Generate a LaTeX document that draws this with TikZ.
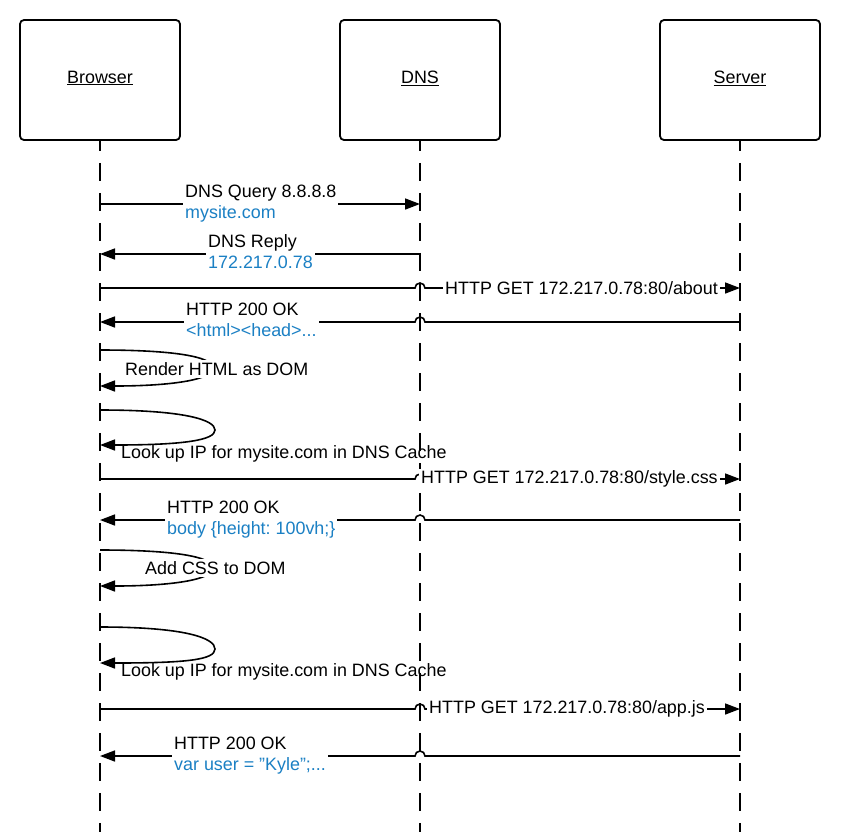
\documentclass[tikz,border=0pt]{standalone}
\usepackage{fontspec}
\setmainfont{Liberation Sans}
\usetikzlibrary{arrows.meta}
\definecolor{lblue}{RGB}{27,128,196}
\newcommand\dfont{\fontsize{17.9}{21}\selectfont\frenchspacing}
\newcommand\tstrut{\rule[-7pt]{0pt}{21pt}}
\newcommand\sstrut{\rule[-3pt]{0pt}{18pt}}
\newcommand\actortext[1]{\raisebox{2pt}[\height][\depth]{\underline{#1}}}
\begin{document}
\begin{tikzpicture}[x=1pt,y=-1pt,
 actor/.style={draw,line width=1.8pt,rounded corners=4pt,minimum width=160pt,minimum height=120pt,font=\dfont},
 life/.style={line width=1.8pt,dash pattern=on 18pt off 12pt,dash phase=8pt},
 msg/.style={line width=1.6pt,-{Triangle[length=15pt,width=11pt]}},
 lbl/.style={fill=white,anchor=west,inner xsep=2pt,inner ysep=0pt,font=\dfont,align=left},
 slbl/.style={fill=white,anchor=west,inner xsep=2pt,inner ysep=0pt,font=\dfont},
 plbl/.style={anchor=west,inner xsep=2pt,inner ysep=0pt,font=\dfont},
]
\useasboundingbox (0,0) rectangle (859,831);

% actors
\node[actor] (browser) at (100,80) {\actortext{Browser}};
\node[actor] (dns) at (420,80) {\actortext{DNS}};
\node[actor] (server) at (740,80) {\actortext{Server}};

% lifelines
\coordinate (browserEnd) at (100,832);
\coordinate (dnsEnd) at (420,832);
\coordinate (serverEnd) at (740,832);
\draw[life] (browser.south) -- (browserEnd);
\draw[life] (dns.south) -- (dnsEnd);
\draw[life] (server.south) -- (serverEnd);

% message endpoints
\coordinate (b1) at (100,204); \coordinate (d1) at (420,204);
\coordinate (b2) at (100,254); \coordinate (d2) at (420,254);
\coordinate (b3) at (100,288); \coordinate (d3) at (420,288); \coordinate (s3) at (740,288);
\coordinate (b4) at (100,322); \coordinate (d4) at (420,322); \coordinate (s4) at (740,322);
\coordinate (l5a) at (100,350); \coordinate (l5m) at (213,368); \coordinate (l5b) at (100,386);
\coordinate (l6a) at (100,410); \coordinate (l6m) at (215,430); \coordinate (l6b) at (100,445);
\coordinate (b7) at (100,479); \coordinate (d7) at (420,479); \coordinate (s7) at (740,479);
\coordinate (b8) at (100,520); \coordinate (d8) at (420,520); \coordinate (s8) at (740,520);
\coordinate (l9a) at (100,550); \coordinate (l9m) at (213,568); \coordinate (l9b) at (100,586);
\coordinate (l10a) at (100,627); \coordinate (l10m) at (215,649); \coordinate (l10b) at (100,663);
\coordinate (b11) at (100,709); \coordinate (d11) at (420,709); \coordinate (s11) at (740,709);
\coordinate (b12) at (100,756); \coordinate (d12) at (420,756); \coordinate (s12) at (740,756);

% messages
\draw[msg] (b1) -- (d1);
\draw[msg] (d2) -- (b2);
\draw[msg] (b3) -- ([xshift=-5pt]d3) arc[start angle=180,end angle=0,radius=5pt] -- (s3);
\draw[msg] (s4) -- ([xshift=5pt]d4) arc[start angle=0,end angle=180,radius=5pt] -- (b4);
\draw[msg] (l5a) .. controls (170,350) and (213,356) .. (l5m) .. controls (213,380) and (170,386) .. (l5b);
\draw[msg] (l6a) .. controls (185,410) and (215,420) .. (l6m) .. controls (215,440) and (185,445) .. (l6b);
\draw[msg] (b7) -- ([xshift=-5pt]d7) arc[start angle=180,end angle=0,radius=5pt] -- (s7);
\draw[msg] (s8) -- ([xshift=5pt]d8) arc[start angle=0,end angle=180,radius=5pt] -- (b8);
\draw[msg] (l9a) .. controls (170,550) and (213,556) .. (l9m) .. controls (213,580) and (170,586) .. (l9b);
\draw[msg] (l10a) .. controls (185,627) and (215,638) .. (l10m) .. controls (215,660) and (185,663) .. (l10b);
\draw[msg] (b11) -- ([xshift=-5pt]d11) arc[start angle=180,end angle=0,radius=5pt] -- (s11);
\draw[msg] (s12) -- ([xshift=5pt]d12) arc[start angle=0,end angle=180,radius=5pt] -- (b12);

% labels
\node[lbl] (t1) at (183,204) {\tstrut DNS Query 8.8.8.8\\\color{lblue}\tstrut mysite.com};
\node[lbl] (t2) at (206,254) {\tstrut DNS Reply\\\color{lblue}\tstrut 172.217.0.78};
\node[slbl] (t3) at (443,288) {\sstrut HTTP GET 172.217.0.78:80/about};
\node[lbl] (t4) at (184,322) {\tstrut HTTP 200 OK\\\color{lblue}\tstrut <html><head>...};
\node[slbl] (t5) at (123,369) {\sstrut Render HTML as DOM};
\node[plbl] (t6) at (119,453) {\sstrut Look up IP for mysite.com in DNS Cache};
\node[slbl] (t7) at (419,478) {\sstrut HTTP GET 172.217.0.78:80/style.css};
\node[lbl] (t8) at (165,520) {\tstrut HTTP 200 OK\\\color{lblue}\tstrut body \{height: 100vh;\}};
\node[slbl] (t9) at (143,568) {\sstrut Add CSS to DOM};
\node[plbl] (t10) at (119,671) {\sstrut Look up IP for mysite.com in DNS Cache};
\node[slbl] (t11) at (427,708) {\sstrut HTTP GET 172.217.0.78:80/app.js};
\node[lbl] (t12) at (172,756) {\tstrut HTTP 200 OK\\\color{lblue}\tstrut var user = "Kyle";...};
\end{tikzpicture}
\end{document}
